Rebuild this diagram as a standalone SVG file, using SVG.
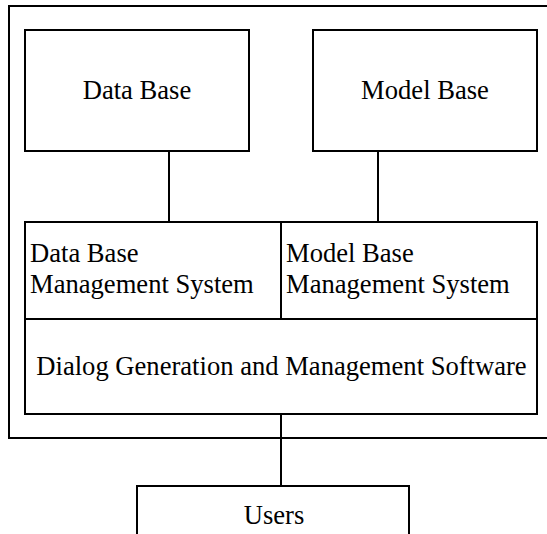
<svg xmlns="http://www.w3.org/2000/svg" width="547" height="534" viewBox="0 0 547 534">
<style>
.box{fill:#fff;stroke:#000;stroke-width:2}
.conn{stroke:#000;stroke-width:2;fill:none}
.t{font-family:"Liberation Serif","Times New Roman",serif;font-size:26.6px;fill:#000}
.c{text-anchor:middle}
</style>
<rect width="547" height="534" fill="#fff"/>
<g id="system">
<rect class="box" x="9" y="6" width="560" height="432"/>
</g>
<g id="database">
<rect class="box" x="25" y="30" width="224" height="121"/>
<text class="t c" x="137" y="99">Data Base</text>
</g>
<g id="modelbase">
<rect class="box" x="313" y="30" width="224" height="121"/>
<text class="t c" x="425" y="99">Model Base</text>
</g>
<g id="dbms">
<rect class="box" x="25" y="222" width="256" height="97"/>
<text class="t" x="30" y="262">Data Base</text>
<text class="t" x="30" y="293">Management System</text>
</g>
<g id="mbms">
<rect class="box" x="281" y="222" width="256" height="97"/>
<text class="t" x="286" y="262">Model Base</text>
<text class="t" x="286" y="293">Management System</text>
</g>
<g id="dgms">
<rect class="box" x="25" y="319" width="512" height="95"/>
<text class="t c" x="281.5" y="375">Dialog Generation and Management Software</text>
</g>
<g id="users">
<rect class="box" x="137" y="486" width="272" height="60"/>
<text class="t c" x="274" y="524">Users</text>
</g>
<g id="connectors">
<line class="conn" x1="169" y1="151" x2="169" y2="222"/>
<line class="conn" x1="378" y1="151" x2="378" y2="222"/>
<line class="conn" x1="281" y1="414" x2="281" y2="486"/>
</g>
</svg>
